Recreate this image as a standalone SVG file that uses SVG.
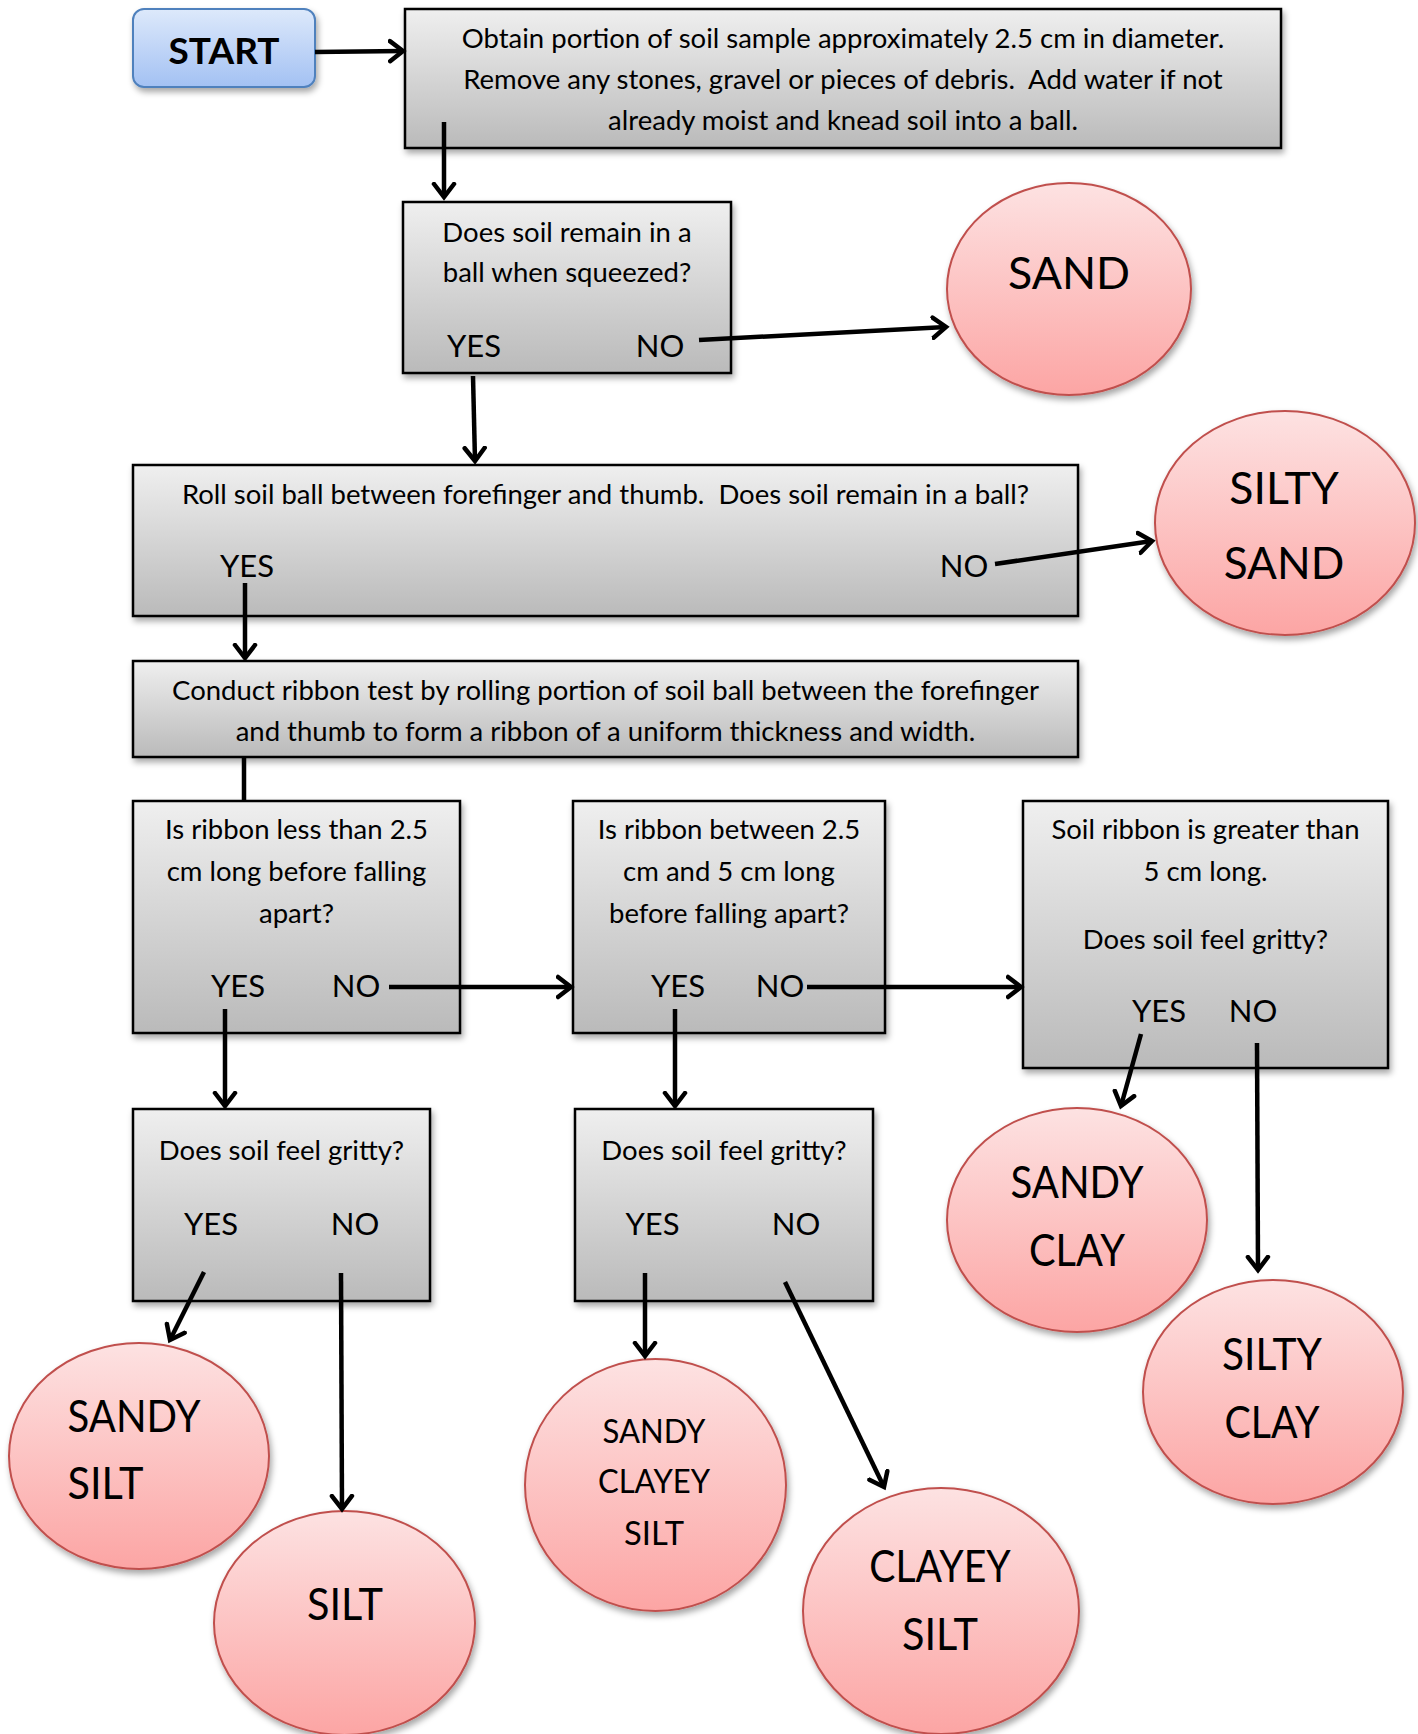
<svg xmlns="http://www.w3.org/2000/svg" width="1418" height="1734" viewBox="0 0 1418 1734" xml:space="preserve">
<defs>
<linearGradient id="gBox" x1="0" y1="0" x2="0" y2="1"><stop offset="0" stop-color="#efefef"/><stop offset="1" stop-color="#bababa"/></linearGradient>
<linearGradient id="gEll" x1="0" y1="0" x2="0" y2="1"><stop offset="0" stop-color="#fde2e2"/><stop offset="1" stop-color="#fca5a4"/></linearGradient>
<linearGradient id="gStart" x1="0" y1="0" x2="0" y2="1"><stop offset="0" stop-color="#dde9fb"/><stop offset="1" stop-color="#a3c1f3"/></linearGradient>
<filter id="sh" x="-10%" y="-10%" width="125%" height="130%"><feDropShadow dx="2" dy="4" stdDeviation="3" flood-color="#000" flood-opacity="0.35"/></filter>
<marker id="ah" markerUnits="userSpaceOnUse" markerWidth="32" markerHeight="32" refX="15" refY="11" orient="auto" viewBox="0 0 32 22">
<path d="M2,1 L15,11 L2,21" fill="none" stroke="#000" stroke-width="4.5" stroke-linecap="round" stroke-linejoin="miter"/>
</marker>
<style>
.box{fill:url(#gBox);stroke:#000;stroke-width:2.5;filter:url(#sh)}
.ell{fill:url(#gEll);stroke:#c0504d;stroke-width:2;filter:url(#sh)}
.t{font-family:Lato,"Open Sans","Liberation Sans",sans-serif;font-size:27.5px;fill:#000;text-anchor:middle;white-space:pre}
.yn{font-family:Lato,"Open Sans","Liberation Sans",sans-serif;font-size:31px;fill:#000;text-anchor:middle}
.big{font-family:Lato,"Open Sans","Liberation Sans",sans-serif;font-size:44px;fill:#000;text-anchor:middle}
.bigl{font-family:Lato,"Open Sans","Liberation Sans",sans-serif;font-size:44px;fill:#000;text-anchor:start}
.mid{font-family:Lato,"Open Sans","Liberation Sans",sans-serif;font-size:33px;fill:#000;text-anchor:middle}
.c{fill:none;stroke:#000;stroke-width:4.5}
.ca{fill:none;stroke:#000;stroke-width:4.5;marker-end:url(#ah)}
</style>
</defs>
<rect width="1418" height="1734" fill="#fff"/>

<g id="start">
<rect x="133" y="9" width="182" height="78" rx="11" fill="url(#gStart)" stroke="#4f81bd" stroke-width="2" filter="url(#sh)"/>
<text x="224" y="64" font-family="Lato,'Open Sans','Liberation Sans',sans-serif" font-size="37" font-weight="bold" text-anchor="middle">START</text>
</g>

<g id="obtain">
<rect class="box" x="405" y="9" width="876" height="139"/>
<text class="t" x="843" y="48">Obtain portion of soil sample approximately 2.5 cm in diameter.</text>
<text class="t" x="843" y="89">Remove any stones, gravel or pieces of debris.  Add water if not</text>
<text class="t" x="843" y="130">already moist and knead soil into a ball.</text>
</g>

<g id="squeeze">
<rect class="box" x="403" y="202" width="328" height="171"/>
<text class="t" x="567" y="241.5">Does soil remain in a</text>
<text class="t" x="567" y="281.5">ball when squeezed?</text>
<text class="yn" x="474" y="357">YES</text>
<text class="yn" x="660" y="357">NO</text>
</g>

<g id="sand">
<ellipse class="ell" cx="1069" cy="289" rx="122" ry="106"/>
<text class="big" x="1069" y="289" textLength="122" lengthAdjust="spacingAndGlyphs">SAND</text>
</g>

<g id="roll">
<rect class="box" x="133" y="465" width="945" height="151"/>
<text class="t" x="605.5" y="503.5">Roll soil ball between forefinger and thumb.  Does soil remain in a ball?</text>
<text class="yn" x="247" y="577">YES</text>
<text class="yn" x="964" y="577">NO</text>
</g>

<g id="silty-sand">
<ellipse class="ell" cx="1285" cy="523" rx="130" ry="112"/>
<text class="big" x="1284" y="504" textLength="109.5" lengthAdjust="spacingAndGlyphs">SILTY</text>
<text class="big" x="1284" y="579" textLength="120.5" lengthAdjust="spacingAndGlyphs">SAND</text>
</g>

<g id="ribbon">
<rect class="box" x="133" y="661" width="945" height="96"/>
<text class="t" x="605.5" y="699.5">Conduct ribbon test by rolling portion of soil ball between the forefinger</text>
<text class="t" x="605.5" y="740.5">and thumb to form a ribbon of a uniform thickness and width.</text>
</g>

<g id="less25">
<rect class="box" x="133" y="801" width="327" height="232"/>
<text class="t" x="296.5" y="838.5">Is ribbon less than 2.5</text>
<text class="t" x="296.5" y="880.5">cm long before falling</text>
<text class="t" x="296.5" y="922.5">apart?</text>
<text class="yn" x="238" y="997">YES</text>
<text class="yn" x="356" y="997">NO</text>
</g>

<g id="between">
<rect class="box" x="573" y="801" width="312" height="232"/>
<text class="t" x="729" y="838.5">Is ribbon between 2.5</text>
<text class="t" x="729" y="880.5">cm and 5 cm long</text>
<text class="t" x="729" y="922.5">before falling apart?</text>
<text class="yn" x="678" y="997">YES</text>
<text class="yn" x="780" y="997">NO</text>
</g>

<g id="greater5">
<rect class="box" x="1023" y="801" width="365" height="267"/>
<text class="t" x="1205.5" y="838.5">Soil ribbon is greater than</text>
<text class="t" x="1205.5" y="880.5">5 cm long.</text>
<text class="t" x="1205.5" y="948.5">Does soil feel gritty?</text>
<text class="yn" x="1159" y="1022">YES</text>
<text class="yn" x="1253" y="1022">NO</text>
</g>

<g id="gritty1">
<rect class="box" x="133" y="1109" width="297" height="192"/>
<text class="t" x="281.5" y="1159.5">Does soil feel gritty?</text>
<text class="yn" x="211" y="1235">YES</text>
<text class="yn" x="355" y="1235">NO</text>
</g>

<g id="gritty2">
<rect class="box" x="575" y="1109" width="298" height="192"/>
<text class="t" x="724" y="1159.5">Does soil feel gritty?</text>
<text class="yn" x="652.5" y="1235">YES</text>
<text class="yn" x="796" y="1235">NO</text>
</g>

<g id="sandy-clay">
<ellipse class="ell" cx="1077" cy="1220" rx="130" ry="112"/>
<text class="big" x="1077" y="1198" textLength="133" lengthAdjust="spacingAndGlyphs">SANDY</text>
<text class="big" x="1077" y="1266" textLength="96" lengthAdjust="spacingAndGlyphs">CLAY</text>
</g>

<g id="silty-clay">
<ellipse class="ell" cx="1273" cy="1392" rx="130" ry="112"/>
<text class="big" x="1272" y="1370" textLength="100" lengthAdjust="spacingAndGlyphs">SILTY</text>
<text class="big" x="1272" y="1438" textLength="95" lengthAdjust="spacingAndGlyphs">CLAY</text>
</g>

<g id="sandy-silt">
<ellipse class="ell" cx="139" cy="1456" rx="130" ry="113"/>
<text class="bigl" x="67.5" y="1432" textLength="133" lengthAdjust="spacingAndGlyphs">SANDY</text>
<text class="bigl" x="67.5" y="1499" textLength="76" lengthAdjust="spacingAndGlyphs">SILT</text>
</g>

<g id="silt">
<ellipse class="ell" cx="344.5" cy="1623" rx="130.5" ry="112"/>
<text class="big" x="345" y="1620" textLength="76" lengthAdjust="spacingAndGlyphs">SILT</text>
</g>

<g id="sandy-clayey-silt">
<ellipse class="ell" cx="655.5" cy="1485" rx="130.5" ry="126"/>
<text class="mid" x="654" y="1443" textLength="103" lengthAdjust="spacingAndGlyphs">SANDY</text>
<text class="mid" x="654" y="1493" textLength="112" lengthAdjust="spacingAndGlyphs">CLAYEY</text>
<text class="mid" x="654" y="1545" textLength="60" lengthAdjust="spacingAndGlyphs">SILT</text>
</g>

<g id="clayey-silt">
<ellipse class="ell" cx="941" cy="1611" rx="138" ry="123"/>
<text class="big" x="940" y="1582" textLength="141.5" lengthAdjust="spacingAndGlyphs">CLAYEY</text>
<text class="big" x="940" y="1650" textLength="76" lengthAdjust="spacingAndGlyphs">SILT</text>
</g>

<g id="connectors">
<line class="ca" x1="315" y1="52" x2="403" y2="51"/>
<line class="ca" x1="444" y1="122" x2="444" y2="197"/>
<line class="ca" x1="699" y1="340" x2="946" y2="327"/>
<line class="ca" x1="473" y1="376" x2="475" y2="461"/>
<line class="ca" x1="995" y1="564" x2="1152" y2="541"/>
<line class="ca" x1="245" y1="583" x2="245" y2="658"/>
<line class="c" x1="244" y1="757" x2="244" y2="801"/>
<line class="ca" x1="389" y1="987" x2="571" y2="987"/>
<line class="ca" x1="225" y1="1009" x2="225" y2="1106"/>
<line class="ca" x1="807" y1="987" x2="1021" y2="987"/>
<line class="ca" x1="675" y1="1009" x2="675" y2="1106"/>
<line class="ca" x1="1141" y1="1034" x2="1121" y2="1106"/>
<line class="ca" x1="1257" y1="1043" x2="1258" y2="1270"/>
<line class="ca" x1="204" y1="1272" x2="170" y2="1340"/>
<line class="ca" x1="341" y1="1273" x2="342" y2="1509"/>
<line class="ca" x1="645" y1="1273" x2="645" y2="1356"/>
<line class="ca" x1="785" y1="1282" x2="884" y2="1487"/>
</g>
</svg>
